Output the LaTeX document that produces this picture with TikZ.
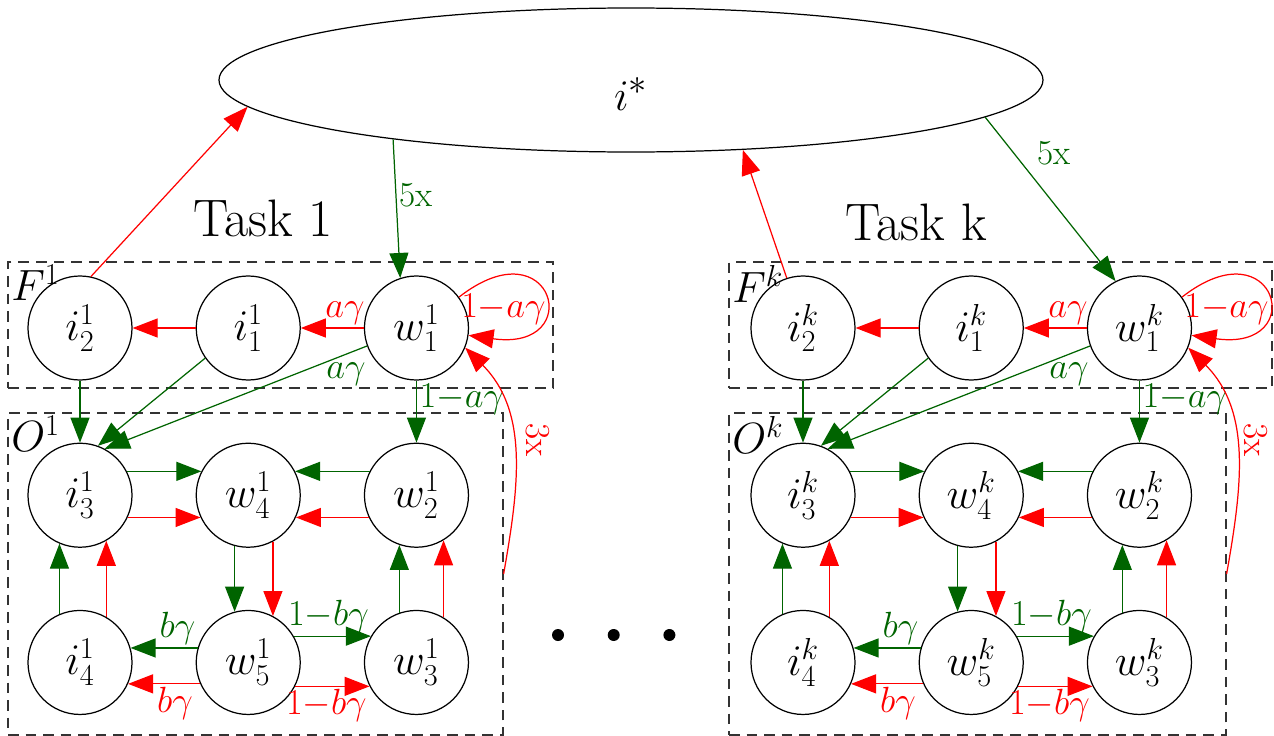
\documentclass[tikz,border=0pt]{standalone}
\usepackage{amsmath,amssymb}
\usepackage{xcolor}
\usepackage{tikz}
\usetikzlibrary{arrows.meta,positioning,shapes.geometric}
\definecolor{dkgreen}{HTML}{006400}
\definecolor{dashgray}{HTML}{333333}
\tikzset{
  state/.style={circle, draw, line width=.7pt, minimum size=20.8mm,
                inner sep=0pt, font=\fontsize{24}{28}\selectfont},
  grpbox/.style={draw=dashgray, dash pattern=on 6pt off 4pt, line width=.7pt,
                 inner sep=0pt},
  grplbl/.style={anchor=north west, inner sep=2pt, font=\fontsize{24}{28}\selectfont},
  tasklbl/.style={font=\fontsize{30}{34}\selectfont},
  garr/.style={-{Triangle[length=5mm,width=3.8mm]}, line width=.7pt, draw=dkgreen},
  rarr/.style={-{Triangle[length=5mm,width=3.8mm]}, line width=.7pt, draw=red},
  glbl/.style={font=\fontsize{20}{24}\selectfont, text=dkgreen, inner sep=1.5pt},
  rlbl/.style={font=\fontsize{20}{24}\selectfont, text=red, inner sep=1.5pt},
  dotmark/.style={circle, fill, inner sep=0pt, minimum size=2.4mm}
}

\begin{document}
\begin{tikzpicture}[node distance=12.4mm and 12.6mm]
  \useasboundingbox (0,0) rectangle (25.48,-14.72);
  \node[ellipse, draw, line width=.7pt, minimum width=16.48cm, minimum height=2.88cm,
        text height=1.2cm, text depth=0pt,
        font=\fontsize{30}{34}\selectfont] (istar) at (12.62,-1.6) {$i^*$\hspace{6mm}};

  % task 1
  \node[tasklbl] (t1) at (5.26,-4.36) {Task 1};
  \node[grpbox, minimum width=10.9cm, minimum height=2.52cm] (F1) at (5.61,-6.5) {};
  \node[grpbox, minimum width=9.9cm, minimum height=6.44cm] (O1) at (5.11,-11.48) {};
  \node[grplbl] (F1lbl) at (F1.north west) {$F^1$};
  \node[grplbl] (O1lbl) at (O1.north west) {$O^1$};

  \node[state] (i21) at (1.6,-6.56) {$i_2^1$};
  \node[state, right=of i21] (i11) {$i_1^1$};
  \node[state, right=of i11] (w11) {$w_1^1$};
  \node[state, below=of i21] (i31) {$i_3^1$};
  \node[state, right=of i31] (w41) {$w_4^1$};
  \node[state, right=of w41] (w21) {$w_2^1$};
  \node[state, below=of i31] (i41) {$i_4^1$};
  \node[state, right=of i41] (w51) {$w_5^1$};
  \node[state, right=of w51] (w31) {$w_3^1$};

  \draw[rarr] (i21.78) -- (istar.184);
  \draw[garr] (istar.194) -- node[glbl, right, pos=.4] {5x} (w11.108);
  \draw[rarr] (i11) -- (i21);
  \draw[rarr] (w11) -- node[rlbl, above, pos=.3] {$a\gamma$} (i11);
  \draw[rarr] (w11.36) to[out=38, in=-8, distance=2.4cm]
    node[rlbl, left, pos=.5, yshift=-3mm, xshift=1mm] {$1{-}a\gamma$} (w11.-8);
  \draw[garr] (i21) -- (i31);
  \draw[garr] (i11.215) -- (i31.70);
  \draw[garr] (w11.200) -- node[glbl, below, pos=.08, yshift=-1mm] {$a\gamma$} (i31.62);
  \draw[garr] (w11) -- node[glbl, right, pos=.3] {$1{-}a\gamma$} (w21);
  \draw[rarr] (O1.east) to[out=80, in=-45]
    node[rlbl, rotate=-90, anchor=south, pos=.55, yshift=2mm] {3x} (w11.-22);
  \draw[garr] (i31.27) -- (w41.153);
  \draw[rarr] (i31.-25) -- (w41.205);
  \draw[garr] (w21.153) -- (w41.27);
  \draw[rarr] (w21.205) -- (w41.-25);
  \draw[garr] (w41.255) -- (w51.105);
  \draw[rarr] (w41.-62) -- (w51.62);
  \draw[garr] (i41.113) -- (i31.247);
  \draw[rarr] (i41.60) -- (i31.-60);
  \draw[garr] (w31.109) -- (w21.251);
  \draw[rarr] (w31.59) -- (w21.-59);
  \draw[garr] (w51.164) -- node[glbl, above, pos=.3] {$b\gamma$} (i41.16);
  \draw[rarr] (w51.204) -- node[rlbl, below, pos=.35] {$b\gamma$} (i41.-24);
  \draw[garr] (w51.30) -- node[glbl, above, pos=.45] {$1{-}b\gamma$} (w31.150);
  \draw[rarr] (w51.-27) -- node[rlbl, below, pos=.42] {$1{-}b\gamma$} (w31.207);

  % dots
  \node[dotmark] (d1) at (11.16,-12.7) {};
  \node[dotmark, right=8.6mm of d1] (d2) {};
  \node[dotmark, right=8.6mm of d2] (d3) {};

  % task k
  \node[tasklbl] (tk) at (18.32,-4.44) {Task k};
  \node[grpbox, minimum width=10.86cm, minimum height=2.52cm] (Fk) at (20.01,-6.5) {};
  \node[grpbox, minimum width=9.94cm, minimum height=6.44cm] (Ok) at (19.55,-11.48) {};
  \node[grplbl] (Fklbl) at (Fk.north west) {$F^k$};
  \node[grplbl] (Oklbl) at (Ok.north west) {$O^k$};

  \node[state] (i2k) at (16.06,-6.56) {$i_2^k$};
  \node[state, right=of i2k] (i1k) {$i_1^k$};
  \node[state, right=of i1k] (w1k) {$w_1^k$};
  \node[state, below=of i2k] (i3k) {$i_3^k$};
  \node[state, right=of i3k] (w4k) {$w_4^k$};
  \node[state, right=of w4k] (w2k) {$w_2^k$};
  \node[state, below=of i3k] (i4k) {$i_4^k$};
  \node[state, right=of i4k] (w5k) {$w_5^k$};
  \node[state, right=of w5k] (w3k) {$w_3^k$};

  \draw[rarr] (i2k.108) -- (istar.-32);
  \draw[garr] (istar.-6) -- node[glbl, pos=.22, right=4mm] {5x} (w1k.117);
  \draw[rarr] (i1k) -- (i2k);
  \draw[rarr] (w1k) -- node[rlbl, above, pos=.3] {$a\gamma$} (i1k);
  \draw[rarr] (w1k.36) to[out=38, in=-8, distance=2.4cm]
    node[rlbl, left, pos=.5, yshift=-3mm, xshift=1mm] {$1{-}a\gamma$} (w1k.-8);
  \draw[garr] (i2k) -- (i3k);
  \draw[garr] (i1k.215) -- (i3k.70);
  \draw[garr] (w1k.200) -- node[glbl, below, pos=.08, yshift=-1mm] {$a\gamma$} (i3k.62);
  \draw[garr] (w1k) -- node[glbl, right, pos=.3] {$1{-}a\gamma$} (w2k);
  \draw[rarr] (Ok.east) to[out=80, in=-45]
    node[rlbl, rotate=-90, anchor=south, pos=.55, yshift=1mm] {3x} (w1k.-22);
  \draw[garr] (i3k.27) -- (w4k.153);
  \draw[rarr] (i3k.-25) -- (w4k.205);
  \draw[garr] (w2k.153) -- (w4k.27);
  \draw[rarr] (w2k.205) -- (w4k.-25);
  \draw[garr] (w4k.255) -- (w5k.105);
  \draw[rarr] (w4k.-62) -- (w5k.62);
  \draw[garr] (i4k.113) -- (i3k.247);
  \draw[rarr] (i4k.60) -- (i3k.-60);
  \draw[garr] (w3k.109) -- (w2k.251);
  \draw[rarr] (w3k.59) -- (w2k.-59);
  \draw[garr] (w5k.164) -- node[glbl, above, pos=.3] {$b\gamma$} (i4k.16);
  \draw[rarr] (w5k.204) -- node[rlbl, below, pos=.35] {$b\gamma$} (i4k.-24);
  \draw[garr] (w5k.30) -- node[glbl, above, pos=.45] {$1{-}b\gamma$} (w3k.150);
  \draw[rarr] (w5k.-27) -- node[rlbl, below, pos=.42] {$1{-}b\gamma$} (w3k.207);
\end{tikzpicture}
\end{document}
